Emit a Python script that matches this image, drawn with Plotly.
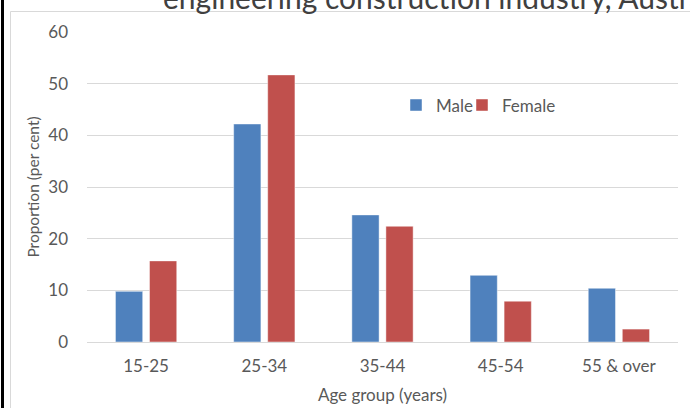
import plotly.graph_objects as go

# age groups and proportions (per cent)
age_groups = ["15-25", "25-34", "35-44", "45-54", "55 & over"]
male = [9.8, 42.2, 24.6, 12.9, 10.4]
female = [15.7, 51.7, 22.4, 7.9, 2.5]

FONT = "Lato, 'Open Sans', sans-serif"
GREY = "#595959"

fig = go.Figure()
fig.add_trace(go.Bar(x=age_groups, y=male, name="Male", legend="legend",
                     marker=dict(color="#4F81BD", line=dict(color="rgba(255,255,255,0.45)", width=1))))
fig.add_trace(go.Bar(x=age_groups, y=female, name="Female", legend="legend2",
                     marker=dict(color="#C0504D", line=dict(color="rgba(255,255,255,0.45)", width=1))))

L, R, T, B = 87, 12, 31.5, 66.3
W, H = 690, 408
pw, ph = W - L - R, H - T - B


def px(x):
    return (x - L) / pw


def py(y):
    return (H - B - y) / ph


leg = dict(orientation="h", y=py(105), xanchor="left", yanchor="middle",
           font=dict(size=17, color=GREY), bgcolor="rgba(0,0,0,0)")

fig.update_layout(
    width=W, height=H,
    margin=dict(l=L, r=R, t=T, b=B, autoexpand=False),
    paper_bgcolor="white", plot_bgcolor="white",
    font=dict(family=FONT, color=GREY, size=17),
    barmode="group", bargap=0.424, bargroupgap=0.2,
    showlegend=True,
    legend=dict(leg, x=px(396)),
    legend2=dict(leg, x=px(462)),
    xaxis=dict(showgrid=False, showline=True, linecolor="#d9d9d9", linewidth=1,
               ticks="", ticklabelstandoff=9, tickfont=dict(size=17), automargin=False,
               title=dict(text="Age group (years)", font=dict(size=17), standoff=13)),
    yaxis=dict(range=[0, 60], dtick=10, showgrid=True, gridcolor="#d9d9d9", gridwidth=1,
               zeroline=False, showline=False, ticks="", ticklabelstandoff=18,
               tickfont=dict(size=17), automargin=False,
               title=dict(text="Proportion (per cent)", font=dict(size=15.5), standoff=4)),
    shapes=[
        dict(type="line", xref="paper", yref="paper", x0=px(2.5), x1=px(2.5), y0=py(-5), y1=py(420),
             line=dict(color="black", width=3)),
        dict(type="rect", xref="paper", yref="paper", x0=px(10.5), x1=px(720), y0=py(11), y1=py(440),
             line=dict(color="#d9d9d9", width=1), layer="below"),
    ],
    annotations=[
        dict(text="engineering construction industry, Australia", xref="paper", yref="paper",
             x=px(161), y=py(16.5), xanchor="left", yanchor="bottom", showarrow=False,
             font=dict(size=30, color="#404040", family=FONT)),
    ],
)

# the page's default body margin would push the chart 8px right and down
fig.write_html("out.html", config={"displayModeBar": False},
               post_script="document.body.style.margin='0';")
